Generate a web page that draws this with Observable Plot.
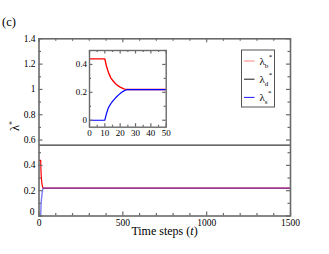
<!DOCTYPE html>
<html>
<head>
<meta charset="utf-8">
<script src="https://cdn.jsdelivr.net/npm/d3@7"></script>
<script src="https://cdn.jsdelivr.net/npm/@observablehq/plot@0.6"></script>
<style>
  body { margin: 0; background: white; }
  #wrap { position: relative; width: 329px; height: 254px; font-family: 'Liberation Serif', 'Times New Roman', serif; }
  #wrap > * { position: absolute; }
  #wrap svg, #wrap svg text { font-family: 'Liberation Serif', 'Times New Roman', serif !important; }
</style>
</head>
<body>
<div id="wrap"></div>
<script>
// ---- data ----
const times = [0, 10, 11, 12, 13, 14, 15, 16, 17, 18, 19, 20, 21, 22, 23, 24, 25, 1500];
const lambdaB = [0.44, 0.44, 0.39, 0.355, 0.325, 0.302, 0.287, 0.274, 0.262, 0.252, 0.244, 0.237, 0.232, 0.227, 0.223, 0.221, 0.22, 0.22];
const lambdaS = [0, 0, 0.045, 0.08, 0.103, 0.12, 0.135, 0.148, 0.16, 0.172, 0.182, 0.192, 0.2, 0.207, 0.213, 0.218, 0.22, 0.22];
const timesD = [0, 1500];
const lambdaD = [0.56, 0.56];

const xMajor = [0, 500, 1000, 1500];
const xMinor = [100, 200, 300, 400, 600, 700, 800, 900, 1100, 1200, 1300, 1400];
const yMajor = [0, 0.2, 0.4, 0.6, 0.8, 1, 1.2, 1.4];
const yMinor = [0.1, 0.3, 0.5, 0.7, 0.9, 1.1, 1.3];

const ixMajor = [0, 10, 20, 30, 40, 50];
const ixMinor = [5, 15, 25, 35, 45];
const iyMajor = [0, 0.2, 0.4];
const iyMinor = [0.1, 0.3, 0.5];

const legendLabels = [["b", "#ff0000"], ["d", "#000000"], ["s", "#0000ff"]];

const rowsB = times.map((t, i) => ({t, v: lambdaB[i]}));
const rowsS = times.map((t, i) => ({t, v: lambdaS[i]}));
const rowsD = timesD.map((t, i) => ({t, v: lambdaD[i]}));

const wrap = document.getElementById("wrap");
const axisColor = "#6a6a6a";
const serif = "'Liberation Serif', 'Times New Roman', serif";

function ticksFor(xs, ys, xsMin, ysMin, pw, ph, big, small) {
  const o = {stroke: axisColor, strokeWidth: 1.2};
  return [
    Plot.tickX(xs, {x: d => d, insetTop: ph - big, ...o}),
    Plot.tickX(xs, {x: d => d, insetBottom: ph - big, ...o}),
    Plot.tickX(xsMin, {x: d => d, insetTop: ph - small, ...o}),
    Plot.tickX(xsMin, {x: d => d, insetBottom: ph - small, ...o}),
    Plot.tickY(ys, {y: d => d, insetRight: pw - big, ...o}),
    Plot.tickY(ys, {y: d => d, insetLeft: pw - big, ...o}),
    Plot.tickY(ysMin, {y: d => d, insetRight: pw - small, ...o}),
    Plot.tickY(ysMin, {y: d => d, insetLeft: pw - small, ...o})
  ];
}

// ---- main chart ----
const mL = 38.5, mR = 39, mT = 38.3, mB = 38.5, W = 329, H = 254;
const main = Plot.plot({
  width: W, height: H,
  marginLeft: mL, marginRight: mR, marginTop: mT, marginBottom: mB,
  style: {fontFamily: serif, fontSize: "9.5px", background: "transparent", color: "#000"},
  x: {domain: [0, 1500]},
  y: {domain: [0, 1.4]},
  marks: [
    Plot.line(rowsD, {x: "t", y: "v", stroke: "#3a3a3a", strokeWidth: 1.3}),
    Plot.line(rowsB, {x: "t", y: "v", stroke: "#ff0000", strokeWidth: 1.2}),
    Plot.line(rowsS, {x: "t", y: "v", stroke: "#3333ee", strokeWidth: 1.4, strokeOpacity: 0.65}),
    ...ticksFor(xMajor, yMajor, xMinor, yMinor, W - mL - mR, H - mT - mB, 4, 2.5),
    Plot.frame({stroke: axisColor, strokeWidth: 1.6}),
    Plot.axisX(xMajor, {tickSize: 0, tickPadding: 3, tickFormat: d => String(d), label: null, fontSize: 9.5}),
    Plot.axisY(yMajor.slice(1), {tickSize: 0, tickPadding: 3.5, tickFormat: d => String(d), label: null, fontSize: 9.5}),
    Plot.axisY(yMajor.slice(0, 1), {tickSize: 0, tickPadding: 4.5, dy: -4, tickFormat: d => String(d), label: null, fontSize: 9.5})
  ]
});
main.style.left = "0px"; main.style.top = "0px";
wrap.appendChild(main);

// ---- inset ----
const iLeft = 60, iTop = 40, iW = 111, iH = 100;
const imL = 29, imR = 5.3, imT = 10, imB = 13.3;
const inset = Plot.plot({
  width: iW, height: iH,
  marginLeft: imL, marginRight: imR, marginTop: imT, marginBottom: imB,
  style: {fontFamily: serif, fontSize: "9px", background: "transparent", color: "#000"},
  x: {domain: [0, 50]},
  y: {domain: [-0.05, 0.5]},
  marks: [
    Plot.line(rowsB, {x: "t", y: "v", stroke: "#ff0000", strokeWidth: 1.4, clip: true}),
    Plot.line(rowsS, {x: "t", y: "v", stroke: "#0000ff", strokeWidth: 1.2, clip: true}),
    ...ticksFor(ixMajor, iyMajor, ixMinor, iyMinor, iW - imL - imR, iH - imT - imB, 3.5, 2),
    Plot.frame({stroke: axisColor, strokeWidth: 1.4}),
    Plot.axisX(ixMajor, {tickSize: 0, tickPadding: 2, tickFormat: d => String(d), label: null, fontSize: 9}),
    Plot.axisY(iyMajor, {tickSize: 0, tickPadding: 2.5, tickFormat: d => String(d), label: null, fontSize: 9})
  ]
});
inset.style.left = iLeft + "px"; inset.style.top = iTop + "px";
wrap.appendChild(inset);

// ---- text overlay & legend ----
const NS = "http://www.w3.org/2000/svg";
const ov = document.createElementNS(NS, "svg");
ov.setAttribute("width", W); ov.setAttribute("height", H);
ov.style.left = "0px"; ov.style.top = "0px"; ov.style.pointerEvents = "none";
let html = "";
html += `<text x="2" y="26" font-size="12.5">(c)</text>`;
html += `<text transform="translate(18.5,126) rotate(-90)" text-anchor="middle" font-size="12.5">λ<tspan dy="-4" font-size="8">*</tspan></text>`;
html += `<text x="164.5" y="235" text-anchor="middle" font-size="12">Time steps (<tspan font-style="italic">t</tspan>)</text>`;
// legend
const lx = 241.5, ly = 50, lw = 33, lh = 57;
html += `<rect x="${lx}" y="${ly}" width="${lw}" height="${lh}" fill="white" stroke="#555" stroke-width="1"/>`;
legendLabels.forEach(([sub, col], i) => {
  const ry = 61 + i * 18.2;
  html += `<line x1="244" x2="254.5" y1="${ry}" y2="${ry}" stroke="${col}" stroke-width="1" stroke-opacity="${col === "#ff0000" ? 0.5 : 0.9}"/>`;
  html += `<text x="259.5" y="${ry + 4}" font-size="11">λ<tspan dy="2.5" font-size="7">${sub}</tspan><tspan dy="-9" dx="0.5" font-size="7">*</tspan></text>`;
});
ov.innerHTML = html;
wrap.appendChild(ov);
</script>
</body>
</html>
